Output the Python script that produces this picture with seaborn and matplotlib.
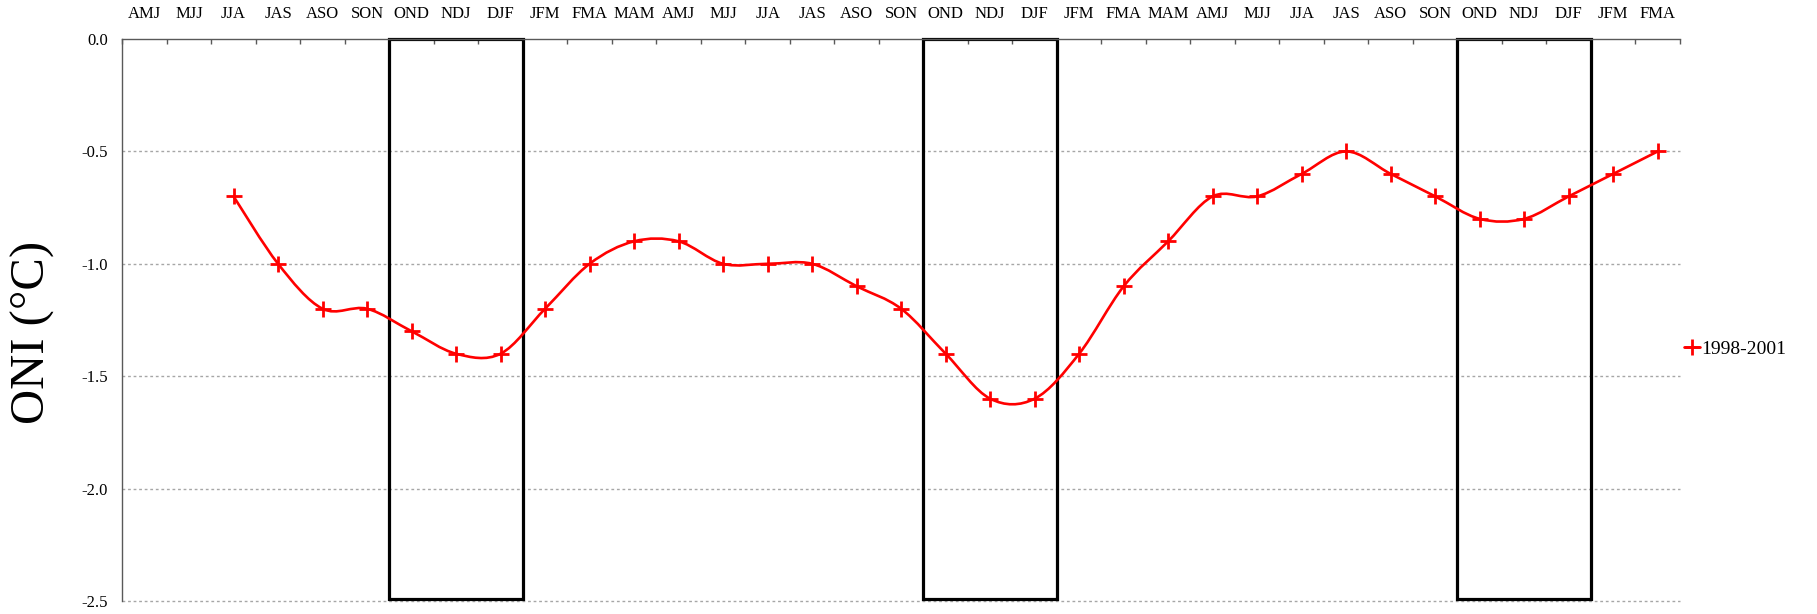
import numpy as np
import pandas as pd
import matplotlib
matplotlib.use("Agg")
import matplotlib.pyplot as plt
from matplotlib.path import Path
from matplotlib.patches import PathPatch, Rectangle
from matplotlib.lines import Line2D
import seaborn as sns

# seasons along the top axis (3-month running seasons)
seasons = ['AMJ', 'MJJ', 'JJA', 'JAS', 'ASO', 'SON', 'OND', 'NDJ', 'DJF', 'JFM', 'FMA', 'MAM',
           'AMJ', 'MJJ', 'JJA', 'JAS', 'ASO', 'SON', 'OND', 'NDJ', 'DJF', 'JFM', 'FMA', 'MAM',
           'AMJ', 'MJJ', 'JJA', 'JAS', 'ASO', 'SON', 'OND', 'NDJ', 'DJF', 'JFM', 'FMA']
# ONI values for 1998-2001, first value sits at JJA
oni_start = 2
oni_values = [-0.7, -1.0, -1.2, -1.2, -1.3, -1.4, -1.4, -1.2, -1.0, -0.9, -0.9,
              -1.0, -1.0, -1.0, -1.1, -1.2, -1.4, -1.6, -1.6, -1.4, -1.1, -0.9,
              -0.7, -0.7, -0.6, -0.5, -0.6, -0.7, -0.8, -0.8, -0.7, -0.6, -0.5]
series_name = '1998-2001'
y_ticks = [0.0, -0.5, -1.0, -1.5, -2.0, -2.5]

df = pd.DataFrame({'pos': np.arange(oni_start, oni_start + len(oni_values)),
                   'oni': oni_values})

sns.set_style("white")
plt.rcParams['font.family'] = ['Liberation Serif', 'DejaVu Serif']
plt.rcParams['text.color'] = 'black'
plt.rcParams['axes.labelcolor'] = 'black'
plt.rcParams['xtick.color'] = 'black'
plt.rcParams['ytick.color'] = 'black'

fig = plt.figure(figsize=(18.17, 6.14), dpi=100)
ax = fig.add_axes([122.3 / 1817, 1 - 601 / 614, (1680 - 122.3) / 1817, (601 - 39) / 614])

n = len(seasons)
ax.set_xlim(-0.5, n - 0.5)
ax.set_ylim(-2.5, 0.0)

# grid lines (dotted) except at the top
for yv in y_ticks[1:]:
    ax.axhline(yv, color='#a6a6a6', lw=1.0, ls=(0, (2, 2)), zorder=0, clip_on=False)

# boxes around OND-NDJ-DJF
for i, s in enumerate(seasons):
    if s == 'OND':
        ax.add_patch(Rectangle((i - 0.5, -2.49), 3, 2.49, fill=False,
                               edgecolor='black', lw=2.3, zorder=2, clip_on=False))

# smoothed line (bezier, Excel-like)
xs = df['pos'].to_numpy(dtype=float)
ys = df['oni'].to_numpy(dtype=float)
pts = np.column_stack([xs, ys])
verts = [pts[0]]
codes = [Path.MOVETO]
for i in range(len(pts) - 1):
    p0 = pts[i - 1] if i > 0 else pts[i]
    p1 = pts[i]
    p2 = pts[i + 1]
    p3 = pts[i + 2] if i + 2 < len(pts) else pts[i + 1]
    c1 = p1 + (p2 - p0) / 6.0
    c2 = p2 - (p3 - p1) / 6.0
    verts += [c1, c2, p2]
    codes += [Path.CURVE4] * 3
ax.add_patch(PathPatch(Path(verts, codes), fill=False, edgecolor='red', lw=1.9, zorder=3))

sns.lineplot(data=df, x='pos', y='oni', ax=ax, color='red', linestyle='', marker='+',
             markersize=11, markeredgewidth=2.0, markeredgecolor='red',
             markerfacecolor='red', zorder=4, legend=False)

# spines
for side in ['right', 'bottom']:
    ax.spines[side].set_visible(False)
for side in ['top', 'left']:
    ax.spines[side].set_color('#595959')
    ax.spines[side].set_linewidth(1.0)

# x axis on top: ticks at boundaries, labels at centres
ax.xaxis.tick_top()
ax.set_xticks(np.arange(n + 1) - 0.5)
ax.set_xticklabels([])
ax.set_xticks(np.arange(n), minor=True)
ax.set_xticklabels(seasons, minor=True, fontsize=12)
ax.tick_params(axis='x', which='major', direction='in', length=3.5, width=1, color='#595959')
ax.tick_params(axis='x', which='minor', length=0, pad=12)
ax.set_xlabel('')

ax.set_yticks(y_ticks)
ax.set_yticklabels([f'{v:.1f}' for v in y_ticks], fontsize=12)
ax.tick_params(axis='y', direction='out', length=4.5, width=1, color='#595959', pad=6)
ax.set_ylabel('ONI (°C)', fontsize=35, va='center')
ax.yaxis.set_label_coords(-0.0573, 0.477)

handle = Line2D([], [], color='red', lw=1.9, marker='+', markersize=11, markeredgewidth=2.0)
fig.legend([handle], [series_name], loc='center left', frameon=False, fontsize=14,
           bbox_to_anchor=(1684 / 1817, 1 - 349 / 614), handlelength=0.8,
           handletextpad=0.1, borderpad=0, borderaxespad=0)

fig.savefig('out.png', dpi=100, facecolor='white')
